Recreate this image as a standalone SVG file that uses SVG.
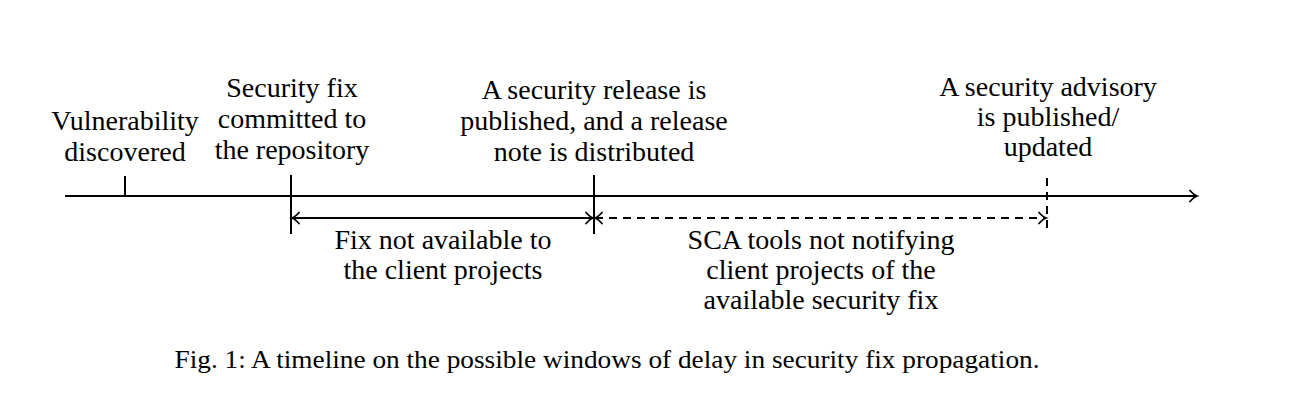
<svg xmlns="http://www.w3.org/2000/svg" width="1290" height="410" viewBox="0 0 1290 410">
<style>
text{font-family:"Liberation Serif","DejaVu Serif",serif;font-size:28px;fill:#000;text-anchor:middle}
.cap{font-size:25px}
.ln{stroke:#000;stroke-width:2;fill:none}
.ds{stroke-dasharray:8 6}
</style>
<defs>
<marker id="ah" markerUnits="userSpaceOnUse" markerWidth="20" markerHeight="20" refX="0" refY="0" viewBox="-10 -10 20 20" orient="auto-start-reverse">
<path d="M-7,-5.5 Q-3,-1 0,0 Q-3,1 -7,5.5" fill="none" stroke="#000" stroke-width="1.8" stroke-linecap="round"/>
</marker>
</defs>
<rect width="1290" height="410" fill="#fff"/>
<g id="connectors">
<line class="ln" x1="65" y1="196" x2="1197" y2="196" marker-end="url(#ah)"/>
<line class="ln" x1="125" y1="176" x2="125" y2="196"/>
<line class="ln" x1="291" y1="175" x2="291" y2="234"/>
<line class="ln" x1="594" y1="175" x2="594" y2="234"/>
<line class="ln ds" x1="1047" y1="178" x2="1047" y2="234"/>
<line class="ln" x1="292" y1="218" x2="593" y2="218" marker-start="url(#ah)" marker-end="url(#ah)"/>
<line class="ln ds" x1="595" y1="218" x2="1046" y2="218" marker-start="url(#ah)" marker-end="url(#ah)"/>
</g>
<g id="n1">
<text x="125" y="130">Vulnerability</text>
<text x="125" y="161">discovered</text>
</g>
<g id="n2">
<text x="292" y="97">Security fix</text>
<text x="292" y="128">committed to</text>
<text x="292" y="159">the repository</text>
</g>
<g id="n3">
<text x="594" y="99">A security release is</text>
<text x="594" y="130">published, and a release</text>
<text x="594" y="161">note is distributed</text>
</g>
<g id="n4">
<text x="1048" y="96">A security advisory</text>
<text x="1048" y="126">is published/</text>
<text x="1048" y="156">updated</text>
</g>
<g id="n5">
<text x="443" y="249">Fix not available to</text>
<text x="443" y="279">the client projects</text>
</g>
<g id="n6">
<text x="821" y="249">SCA tools not notifying</text>
<text x="821" y="279">client projects of the</text>
<text x="821" y="309">available security fix</text>
</g>
<text class="cap" x="607" y="368" textLength="865" lengthAdjust="spacingAndGlyphs">Fig. 1: A timeline on the possible windows of delay in security fix propagation.</text>
</svg>
